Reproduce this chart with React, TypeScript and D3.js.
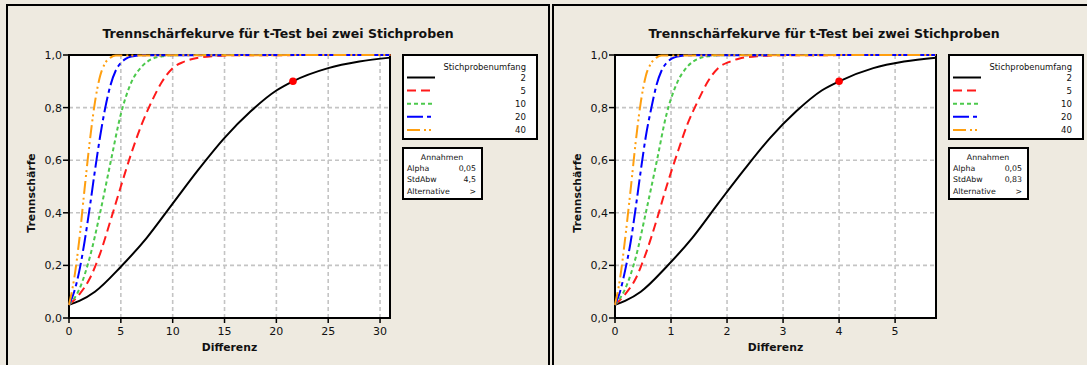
import { useRef, useEffect } from 'react'
import * as d3 from 'd3'

const SAMPLE_SIZES = ['2', '5', '10', '20', '40']
const Y_TICKS = [0, 0.2, 0.4, 0.6, 0.8, 1.0]
const LEFT_X_TICKS = [0, 5, 10, 15, 20, 25, 30]
const RIGHT_X_TICKS = [0, 1, 2, 3, 4, 5]

// power values (same for both panels)
const POWER_N2 = [0.05, 0.065, 0.10, 0.195, 0.305, 0.435, 0.565, 0.685, 0.785, 0.865, 0.90, 0.95, 0.975, 0.99]
const POWER_N5 = [0.05, 0.09, 0.15, 0.245, 0.37, 0.50, 0.625, 0.735, 0.825, 0.90, 0.95, 0.973, 0.986, 0.996, 0.999, 1]
const POWER_N10 = [0.05, 0.11, 0.23, 0.40, 0.59, 0.775, 0.895, 0.955, 0.985, 0.995, 0.999, 1, 1]
const POWER_N20 = [0.05, 0.10, 0.18, 0.29, 0.42, 0.56, 0.69, 0.80, 0.885, 0.94, 0.97, 0.986, 0.994, 0.999, 1]
const POWER_N40 = [0.05, 0.15, 0.30, 0.49, 0.67, 0.82, 0.92, 0.97, 0.99, 0.998, 1]

// differences, left chart (StdAbw 4,5)
const LEFT_DIFF_N2 = [0, 1, 2.5, 5, 7.5, 10, 12.5, 15, 17.5, 20, 21.6, 25, 28, 31]
const LEFT_DIFF_N5 = [0, 1, 2, 3, 4, 5, 6, 7, 8, 9, 10, 11, 12, 14, 16, 31]
const LEFT_DIFF_N10 = [0, 1, 2, 3, 4, 5, 6, 7, 8, 9, 10, 12, 31]
const LEFT_DIFF_N20 = [0, 0.5, 1, 1.5, 2, 2.5, 3, 3.5, 4, 4.5, 5, 5.5, 6, 7, 31]
const LEFT_DIFF_N40 = [0, 0.5, 1, 1.5, 2, 2.5, 3, 3.5, 4, 4.5, 31]

// differences, right chart (StdAbw 0,83)
const RIGHT_DIFF_N2 = [0, 0.18, 0.46, 0.92, 1.38, 1.84, 2.31, 2.77, 3.23, 3.69, 4.0, 4.61, 5.16, 5.73]
const RIGHT_DIFF_N5 = [0, 0.18, 0.37, 0.55, 0.74, 0.92, 1.11, 1.29, 1.48, 1.66, 1.84, 2.03, 2.21, 2.58, 2.95, 5.73]
const RIGHT_DIFF_N10 = [0, 0.18, 0.37, 0.55, 0.74, 0.92, 1.11, 1.29, 1.48, 1.66, 1.84, 2.21, 5.73]
const RIGHT_DIFF_N20 = [0, 0.09, 0.18, 0.28, 0.37, 0.46, 0.55, 0.65, 0.74, 0.83, 0.92, 1.01, 1.11, 1.29, 5.73]
const RIGHT_DIFF_N40 = [0, 0.09, 0.18, 0.28, 0.37, 0.46, 0.55, 0.65, 0.74, 0.83, 5.73]

const LEFT_ASSUMPTIONS = [['Alpha', '0,05'], ['StdAbw', '4,5'], ['Alternative', '>']]
const RIGHT_ASSUMPTIONS = [['Alpha', '0,05'], ['StdAbw', '0,83'], ['Alternative', '>']]

const LEFT_TARGET = [21.6, 0.9]
const RIGHT_TARGET = [4, 0.9]

const SERIES_STYLE = {
  '2': { color: '#000000', dash: null },
  '5': { color: '#FF1A1A', dash: '9,5' },
  '10': { color: '#4CC94C', dash: '4,3' },
  '20': { color: '#0000FF', dash: '16,4,4,4' },
  '40': { color: '#FF9F0F', dash: '13,4,2,3,2,4' },
}

const BG = '#EEEAE0'
const FONT = '"DejaVu Sans", Verdana, sans-serif'
const TITLE = 'Trennschärfekurve für t-Test bei zwei Stichproben'

function zip(xs, ys) {
  return xs.map((x, i) => ({ x, y: ys[i] }))
}

function drawPanel(svg, cfg) {
  const x0 = cfg.x0
  const pad = { l: x0 + 62, r: x0 + 383, t: 55, b: 318 }
  const g = svg.append('g')

  g.append('rect')
    .attr('x', x0).attr('y', 5).attr('width', 542).attr('height', 420)
    .attr('fill', BG).attr('stroke', '#000').attr('stroke-width', 2)

  g.append('text')
    .attr('x', x0 + 271).attr('y', 38)
    .attr('text-anchor', 'middle').attr('font-family', FONT)
    .attr('font-weight', 'bold').attr('font-size', 12.5).attr('fill', '#111')
    .text(TITLE)

  const x = d3.scaleLinear().domain([0, cfg.xMax]).range([pad.l, pad.r])
  const y = d3.scaleLinear().domain([0, 1]).range([pad.b, pad.t])

  g.append('rect')
    .attr('x', pad.l).attr('y', pad.t)
    .attr('width', pad.r - pad.l).attr('height', pad.b - pad.t)
    .attr('fill', '#fff')

  // grid
  g.selectAll('.vgrid')
    .data(cfg.xTicks.filter(d => d > 0))
    .join('line')
    .attr('x1', d => x(d)).attr('x2', d => x(d))
    .attr('y1', pad.t).attr('y2', pad.b)
    .attr('stroke', '#C4C4C4').attr('stroke-width', 1.6).attr('stroke-dasharray', '4,3')
  g.selectAll('.hgrid')
    .data(Y_TICKS.filter(d => d > 0 && d < 1))
    .join('line')
    .attr('x1', pad.l).attr('x2', pad.r)
    .attr('y1', d => y(d)).attr('y2', d => y(d))
    .attr('stroke', '#C4C4C4').attr('stroke-width', 1.6).attr('stroke-dasharray', '4,3')

  g.append('rect')
    .attr('x', pad.l).attr('y', pad.t)
    .attr('width', pad.r - pad.l).attr('height', pad.b - pad.t)
    .attr('fill', 'none').attr('stroke', '#000').attr('stroke-width', 2)

  // ticks
  g.selectAll('.ytick')
    .data(Y_TICKS)
    .join('line')
    .attr('x1', pad.l - 6).attr('x2', pad.l)
    .attr('y1', d => y(d)).attr('y2', d => y(d))
    .attr('stroke', '#000').attr('stroke-width', 1.5)
  g.selectAll('.ylab')
    .data(Y_TICKS)
    .join('text')
    .attr('x', pad.l - 7).attr('y', d => y(d) + 4)
    .attr('text-anchor', 'end').attr('font-size', 11).attr('font-family', FONT).attr('fill', '#111')
    .text(d => d3.format('.1f')(d).replace('.', ','))
  g.selectAll('.xtick')
    .data(cfg.xTicks)
    .join('line')
    .attr('x1', d => x(d)).attr('x2', d => x(d))
    .attr('y1', pad.b).attr('y2', pad.b + 5)
    .attr('stroke', '#000').attr('stroke-width', 1.5)
  g.selectAll('.xlab')
    .data(cfg.xTicks)
    .join('text')
    .attr('x', d => x(d)).attr('y', pad.b + 16.5)
    .attr('text-anchor', 'middle').attr('font-size', 11).attr('font-family', FONT).attr('fill', '#111')
    .text(d => d)

  g.append('text')
    .attr('x', (pad.l + pad.r) / 2).attr('y', 351)
    .attr('text-anchor', 'middle').attr('font-family', FONT)
    .attr('font-weight', 'bold').attr('font-size', 10.8).attr('fill', '#111')
    .text('Differenz')
  g.append('text')
    .attr('transform', `translate(${x0 + 27.5},${193}) rotate(-90)`)
    .attr('text-anchor', 'middle').attr('font-family', FONT)
    .attr('font-weight', 'bold').attr('font-size', 10.8).attr('fill', '#111')
    .text('Trennschärfe')

  // curves
  const line = d3.line().x(d => x(d.x)).y(d => y(d.y)).curve(d3.curveMonotoneX)
  cfg.series.forEach((pts, i) => {
    const st = SERIES_STYLE[SAMPLE_SIZES[i]]
    g.append('path')
      .attr('d', line(pts))
      .attr('fill', 'none').attr('stroke', st.color).attr('stroke-width', 2)
      .attr('stroke-dasharray', st.dash)
  })

  g.append('circle')
    .attr('cx', x(cfg.target[0])).attr('cy', y(cfg.target[1])).attr('r', 3.8)
    .attr('fill', '#FF0000')

  // legend
  const lx = x0 + 396
  g.append('rect')
    .attr('x', lx).attr('y', 55).attr('width', 134).attr('height', 84)
    .attr('fill', '#fff').attr('stroke', '#000').attr('stroke-width', 2)
  g.append('text')
    .attr('x', x0 + 519).attr('y', 69.5)
    .attr('text-anchor', 'end').attr('font-size', 8.4).attr('font-family', FONT).attr('fill', '#111')
    .text('Stichprobenumfang')
  SAMPLE_SIZES.forEach((n, i) => {
    const cy = 77.5 + i * 13.1
    const st = SERIES_STYLE[n]
    g.append('line')
      .attr('x1', lx + 4).attr('x2', lx + 32).attr('y1', cy).attr('y2', cy)
      .attr('stroke', st.color).attr('stroke-width', 2).attr('stroke-dasharray', st.dash)
    g.append('text')
      .attr('x', x0 + 519).attr('y', cy + 3.3)
      .attr('text-anchor', 'end').attr('font-size', 8.6).attr('font-family', FONT).attr('fill', '#111')
      .text(n)
  })

  // assumptions box
  g.append('rect')
    .attr('x', lx).attr('y', 148).attr('width', 79).attr('height', 51)
    .attr('fill', '#fff').attr('stroke', '#000').attr('stroke-width', 2)
  g.append('text')
    .attr('x', lx + 39).attr('y', 160)
    .attr('text-anchor', 'middle').attr('font-size', 7.8).attr('font-family', FONT).attr('fill', '#111')
    .text('Annahmen')
  cfg.assumptions.forEach(([k, v], i) => {
    const by = 170.8 + i * 11.4
    g.append('text')
      .attr('x', lx + 4).attr('y', by)
      .attr('font-size', 7.8).attr('font-family', FONT).attr('fill', '#111')
      .text(k)
    g.append('text')
      .attr('x', lx + 73).attr('y', by)
      .attr('text-anchor', 'end').attr('font-size', 7.8).attr('font-family', FONT).attr('fill', '#111')
      .text(v)
  })
}

export default function App() {
  const svgRef = useRef(null)

  useEffect(() => {
    const el = svgRef.current
    if (!el) return
    const W = 1087
    const H = 365
    d3.select(el).selectAll('*').remove()
    const svg = d3.select(el).attr('width', W).attr('height', H)

    svg.append('rect').attr('width', W).attr('height', H).attr('fill', BG)

    drawPanel(svg, {
      x0: 7,
      xMax: 30.96,
      xTicks: LEFT_X_TICKS,
      series: [
        zip(LEFT_DIFF_N2, POWER_N2),
        zip(LEFT_DIFF_N5, POWER_N5),
        zip(LEFT_DIFF_N10, POWER_N10),
        zip(LEFT_DIFF_N20, POWER_N20),
        zip(LEFT_DIFF_N40, POWER_N40),
      ],
      target: LEFT_TARGET,
      assumptions: LEFT_ASSUMPTIONS,
    })
    drawPanel(svg, {
      x0: 553,
      xMax: 5.73,
      xTicks: RIGHT_X_TICKS,
      series: [
        zip(RIGHT_DIFF_N2, POWER_N2),
        zip(RIGHT_DIFF_N5, POWER_N5),
        zip(RIGHT_DIFF_N10, POWER_N10),
        zip(RIGHT_DIFF_N20, POWER_N20),
        zip(RIGHT_DIFF_N40, POWER_N40),
      ],
      target: RIGHT_TARGET,
      assumptions: RIGHT_ASSUMPTIONS,
    })
  }, [])

  return (
    <div style={{ position: 'absolute', left: 0, top: 0, width: 1087, height: 365, overflow: 'hidden' }}>
      <svg ref={svgRef} style={{ display: 'block' }} />
    </div>
  )
}
